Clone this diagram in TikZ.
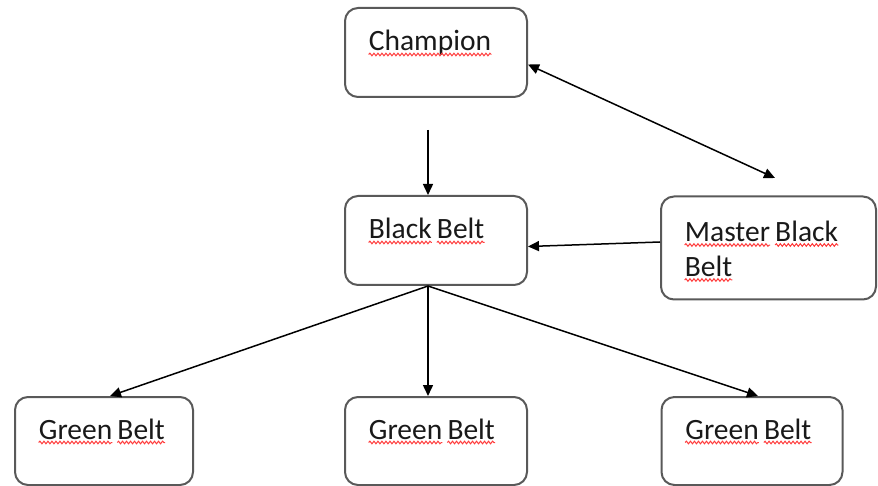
\documentclass[tikz,border=0pt]{standalone}
\usepackage{fontspec}
\setmainfont{Carlito}
\usetikzlibrary{arrows.meta,positioning,decorations.pathmorphing}
\definecolor{boxgray}{RGB}{89,89,89}
\definecolor{spellred}{RGB}{255,60,60}
\tikzset{
  belt/.style={draw=boxgray, line width=2pt, rounded corners=13pt, minimum width=182pt, minimum height=89pt},
  lbl/.style={anchor=base west, inner sep=0pt, align=left, text=black!90, font=\fontsize{29.5}{35}\selectfont},
  squig/.style={spellred, line width=1pt, decorate, decoration={snake, amplitude=1.3pt, segment length=4pt}},
  arr/.style={line width=1.5pt}
}
% red wavy line under a word
\newcommand\wavy[1]{\tikz[baseline=(w.base)]{\node[inner sep=0pt, anchor=base west] (w) {#1};
  \draw[squig] ([yshift=-3.5pt]w.base west) -- ([yshift=-3.5pt]w.base east);}}
\def\wsp{\hspace{0.13em}}

\begin{document}
\begin{tikzpicture}[x=1pt, y=-1pt, >={Triangle[length=11pt,width=10pt]}]
  \useasboundingbox (0,0) rectangle (878,486);

  \node[belt] (champ) at (436,52.5) {};
  \node[belt] (bb) at (436,240.5) {};
  \node[belt, minimum width=215pt, minimum height=103pt] (mbb) at (768.5,248) {};
  \node[belt, minimum width=178pt, minimum height=88pt] (gb1) at (104,441) {};
  \node[belt, minimum height=88pt] (gb2) at (436,441) {};
  \node[belt, minimum width=181pt, minimum height=88pt] (gb3) at (752,441) {};

  % box texts sit near the top left corner (drop = baseline of the last line)
  \foreach \n/\drop/\txt in {champ/44/{\wavy{Champion}}, bb/44/{\wavy{Black}\wsp\wavy{Belt}},
      mbb/81/{\wavy{Master}\wsp\wavy{Black}\\\wavy{Belt}}, gb1/43/{\wavy{Green}\wsp\wavy{Belt}},
      gb2/43/{\wavy{Green}\wsp\wavy{Belt}}, gb3/43/{\wavy{Green}\wsp\wavy{Belt}}}
    \node[lbl] (\n-txt) at ([xshift=24pt,yshift=-\drop pt]\n.north west) {\txt};

  \coordinate (feed) at (428,130);
  \coordinate (mtop) at (775,178);
  \coordinate (split) at ([xshift=-8pt]bb.south);

  \draw[arr,->] (feed) -- (feed |- bb.north);
  \draw[arr,<->] ([yshift=-12pt]champ.east) -- (mtop);
  \draw[arr,->] ([yshift=6pt]mbb.west) -- ([yshift=-6pt]bb.east);
  \draw[arr,->] (split) -- ([xshift=6pt]gb1.north);
  \draw[arr,->] (split) -- (split |- gb2.north);
  \draw[arr,->] (split) -- ([xshift=6pt]gb3.north);
\end{tikzpicture}
\end{document}
